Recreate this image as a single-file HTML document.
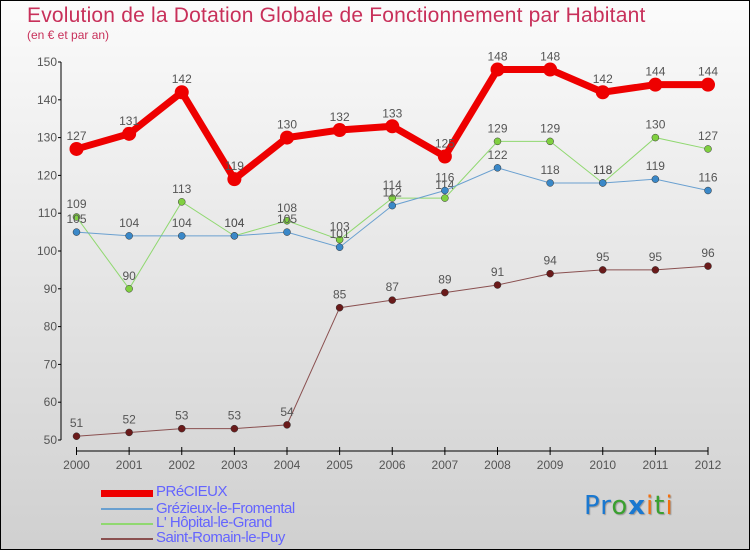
<!DOCTYPE html>
<html><head><meta charset="utf-8"><style>
body{margin:0}
#c{position:relative;width:750px;height:550px;box-sizing:border-box;border:1px solid #000;background:linear-gradient(#fbfbfb,#d0d0d0);font-family:"Liberation Sans",sans-serif;overflow:hidden}
.t{position:absolute;color:#c8305a}
.lg{position:absolute;left:155px;font-size:15px;color:#6464ff;letter-spacing:-0.5px}
.sw{position:absolute;left:100px;width:52px}
</style></head><body>
<div id="c">
<div class="t" style="left:26px;top:3px;font-size:21px;letter-spacing:0.2px">Evolution de la Dotation Globale de Fonctionnement par Habitant</div>
<div class="t" style="left:26px;top:27px;font-size:12px">(en € et par an)</div>
<svg id="s" width="750" height="550" style="position:absolute;left:0;top:0"></svg>
<div class="sw" style="top:489px;height:7px;background:#e00"></div>
<div class="lg" style="top:482px">PRéCIEUX</div>
<div class="sw" style="top:507px;height:2px;background:#6aa0d0"></div>
<div class="lg" style="top:499px">Grézieux-le-Fromental</div>
<div class="sw" style="top:522px;height:2px;background:#90d870"></div>
<div class="lg" style="top:513px">L' Hôpital-le-Grand</div>
<div class="sw" style="top:537px;height:2px;background:#8a5050"></div>
<div class="lg" style="top:528px">Saint-Romain-le-Puy</div>
<div style="position:absolute;left:583px;top:490px;font-size:26px;font-family:'DejaVu Sans',sans-serif;letter-spacing:1px;text-shadow:1px 1px 1px #999"><span style="color:#1a78d0">Pr</span><span style="color:#3aa030">o</span><span style="color:#1a78d0;font-weight:bold">x</span><span style="color:#f07010">i</span><span style="color:#3aa030">t</span><span style="color:#f07010">i</span></div>
</div>
<script>
const years=[2000,2001,2002,2003,2004,2005,2006,2007,2008,2009,2010,2011,2012];
const yTicks=[50,60,70,80,90,100,110,120,130,140,150];
const precieux=[127,131,142,119,130,132,133,125,148,148,142,144,144];
const grezieux=[105,104,104,104,105,101,112,116,122,118,118,119,116];
const hopital=[109,90,113,104,108,103,114,114,129,129,118,130,127];
const romain=[51,52,53,53,54,85,87,89,91,94,95,95,96];
const s=document.getElementById('s');const NS='http://www.w3.org/2000/svg';
const X=i=>75.5+i*(707-75.5)/12;const Y=v=>439-(v-50)*3.78;
function mk(t,a,txt){const e=document.createElementNS(NS,t);for(const k in a)e.setAttribute(k,a[k]);if(txt!==undefined)e.textContent=txt;s.appendChild(e);return e;}
let e=mk('line',{x1:60,y1:Y(150),x2:60,y2:Y(50),stroke:'#000'});


e=mk('line',{x1:X(0),y1:450,x2:X(12),y2:450,stroke:'#000'});


yTicks.forEach(v=>{mk('line',{x1:57,x2:60,y1:Y(v),y2:Y(v),stroke:'#000'});
e=mk('text',{x:56,y:Y(v)+4,'text-anchor':'end','font-size':12,fill:'#555','font-family':'Liberation Sans'},v);

});
years.forEach((y,i)=>{mk('line',{x1:X(i),x2:X(i),y1:446,y2:454,stroke:'#000'});
e=mk('text',{x:X(i),y:468,'text-anchor':'middle','font-size':12,fill:'#555','font-family':'Liberation Sans'},y);

});
function series(d,col,dot,w,r,name){
e=mk('polyline',{points:d.map((v,i)=>X(i)+','+Y(v)).join(' '),fill:'none',stroke:col,'stroke-width':w});


d.forEach((v,i)=>{e=mk('circle',{cx:X(i),cy:Y(v),r:r,fill:dot,stroke:'#333','stroke-width':r>5?0:0.5});


e=mk('text',{x:X(i),y:Y(v)-9,'text-anchor':'middle','font-size':12,fill:'#555','font-family':'Liberation Sans'},v);

});}
series(romain,'#8a5050','#6a1a1a',1,3.5,'saint-romain');
series(hopital,'#90d870','#80d040',1,3.5,'hopital');
series(grezieux,'#6aa0d0','#3a88c8',1,3.5,'grezieux');
series(precieux,'#e00','#e00',7,7,'precieux');
</script>
</body></html>
